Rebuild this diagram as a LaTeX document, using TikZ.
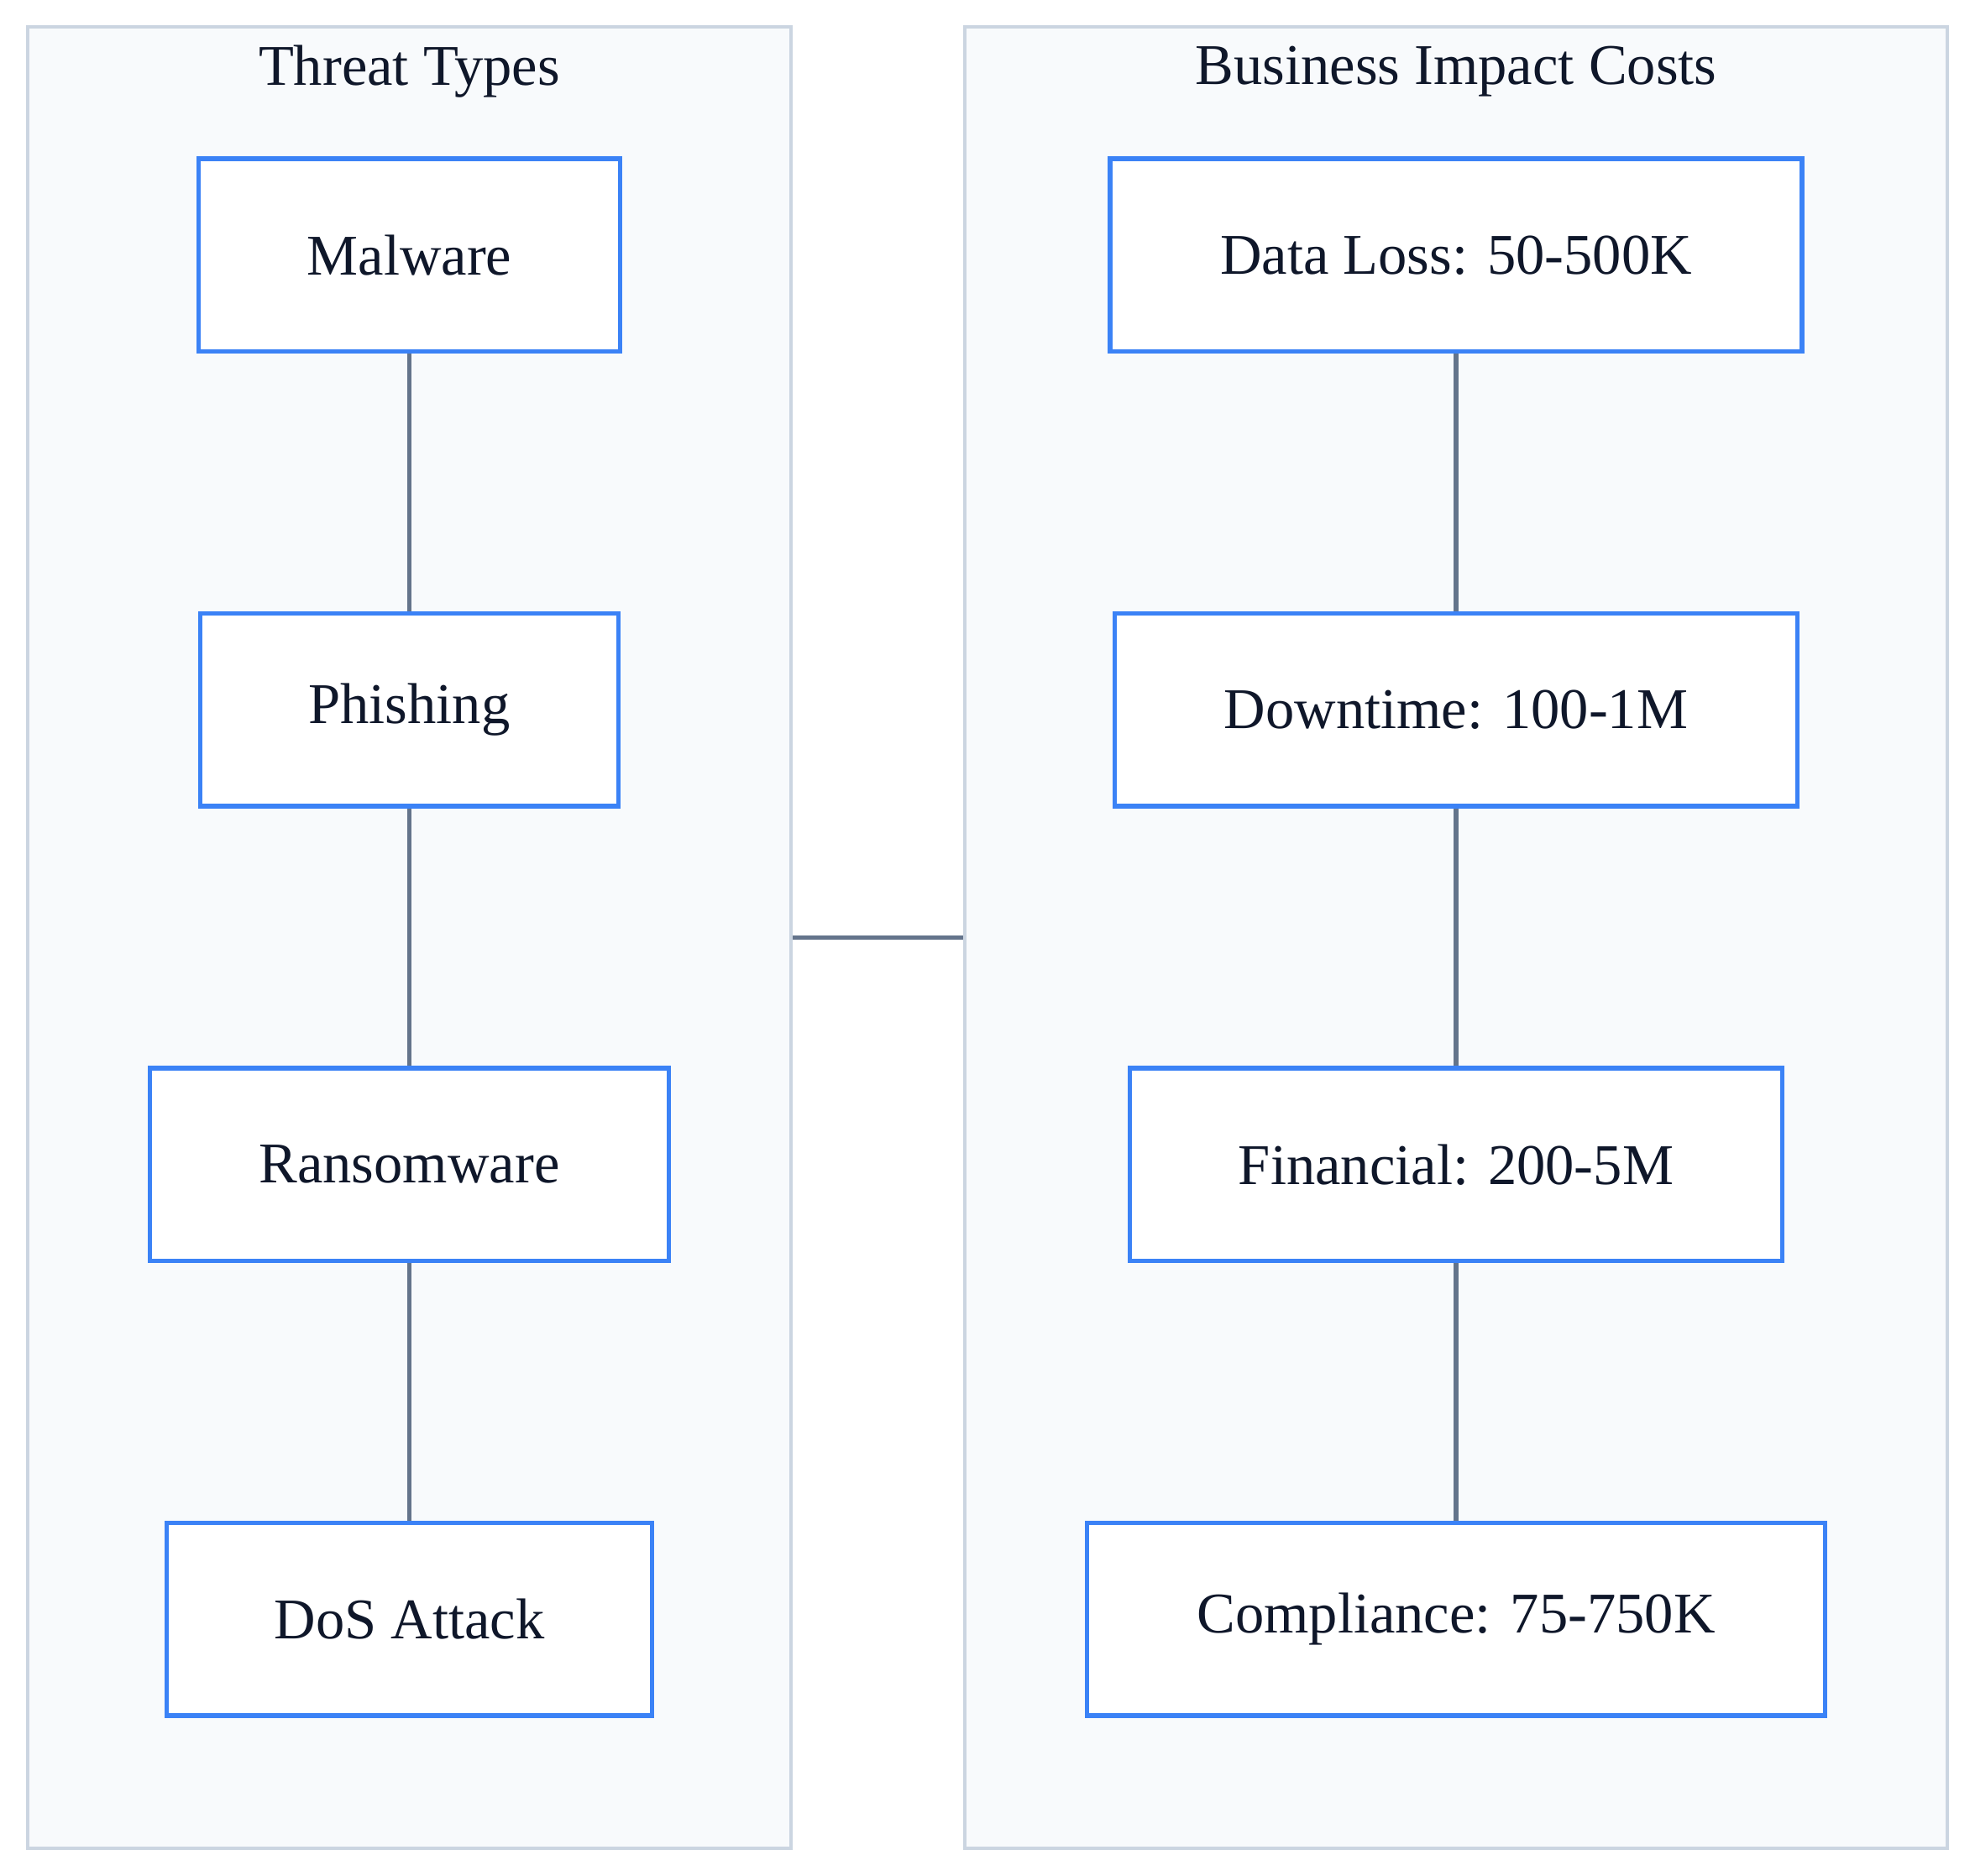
\documentclass[tikz,border=0pt]{standalone}
\usepackage{fontspec}
\setmainfont{Liberation Serif}
\usetikzlibrary{positioning}
\definecolor{clusterfill}{HTML}{F8FAFC}
\definecolor{clusterline}{HTML}{CBD5E1}
\definecolor{boxline}{HTML}{3B82F6}
\definecolor{linkline}{HTML}{64748B}
\definecolor{textcol}{HTML}{0F172A}
\tikzstyle{cluster} = [rectangle, draw=clusterline, fill=clusterfill, line width=0.8pt, minimum height=14.45cm]
\tikzstyle{item} = [rectangle, draw=boxline, fill=white, line width=1pt, minimum height=1.53cm, text=textcol, font=\fontsize{13}{15}\selectfont]
\tikzstyle{title} = [text=textcol, font=\fontsize{13}{15}\selectfont]
\tikzstyle{link} = [draw=linkline, line width=1pt]

\begin{document}
\begin{tikzpicture}[x=0.01cm, y=-0.01cm]
  \useasboundingbox (0,0) rectangle (1568,1489);

  \node (threats) [cluster, minimum width=6.06cm] at (325,744.5) {};
  \node (costs) [cluster, minimum width=7.80cm] at (1156,744.5) {};
  \node (threatstitle) [title] at (325,57) {Threat Types};
  \node (coststitle) [title] at (1156,57) {Business Impact Costs};

  \node (malware) [item, minimum width=3.34cm] at (325,202.5) {Malware};
  \node (phishing) [item, minimum width=3.32cm] at (325,563.5) {Phishing};
  \node (ransom) [item, minimum width=4.12cm] at (325,924.5) {Ransomware};
  \node (dos) [item, minimum width=3.85cm] at (325,1285.5) {DoS Attack};

  \node (dataloss) [item, minimum width=5.49cm] at (1156,202.5) {Data Loss: 50-500K};
  \node (downtime) [item, minimum width=5.42cm] at (1156,563.5) {Downtime: 100-1M};
  \node (financial) [item, minimum width=5.18cm] at (1156,924.5) {Financial: 200-5M};
  \node (compliance) [item, minimum width=5.86cm] at (1156,1285.5) {Compliance: 75-750K};

  \draw [link] (malware) -- (phishing);
  \draw [link] (phishing) -- (ransom);
  \draw [link] (ransom) -- (dos);
  \draw [link] (dataloss) -- (downtime);
  \draw [link] (downtime) -- (financial);
  \draw [link] (financial) -- (compliance);
  \draw [link] (threats.east) -- (costs.west);

\end{tikzpicture}
\end{document}
